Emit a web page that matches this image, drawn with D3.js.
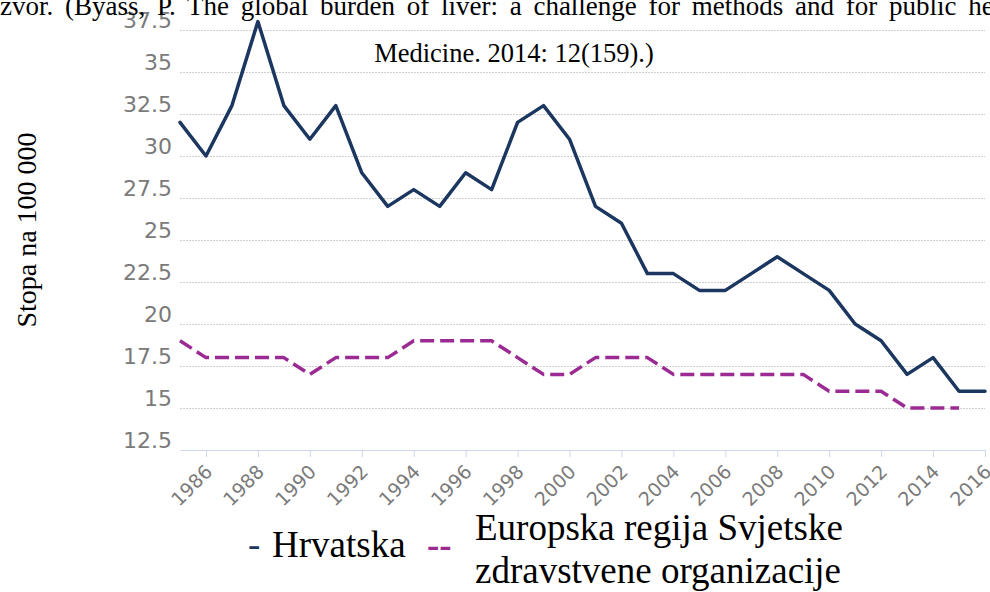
<!DOCTYPE html>
<html>
<head>
<meta charset="utf-8">
<script src="https://cdn.jsdelivr.net/npm/d3@7"></script>
<style>
  html, body { margin: 0; padding: 0; background: #fff; }
  svg { display: block; }
</style>
</head>
<body>
<svg id="graphArea" width="990" height="592"></svg>
<script>

// years on the x axis
let years = d3.range(1985, 2017);

// Hrvatska (1985 - 2016)
let hrvatska = [32, 30, 33, 38, 33, 31, 33, 29, 27, 28, 27, 29, 28, 32, 33, 31,
  27, 26, 23, 23, 22, 22, 23, 24, 23, 22, 20, 19, 17, 18, 16, 16];

// Europska regija SZO (1985 - 2015)
let europa = [19, 18, 18, 18, 18, 17, 18, 18, 18, 19, 19, 19, 19, 18, 17, 17,
  18, 18, 18, 17, 17, 17, 17, 17, 17, 16, 16, 16, 15, 15, 15];

// tick values
let yTicks = [12.5, 15, 17.5, 20, 22.5, 25, 27.5, 30, 32.5, 35, 37.5];
let xTicks = d3.range(1986, 2017, 2);

// texts
let sourceLine1 = "Izvor. (Byass, P. The global burden of liver: a challenge for methods and for public health. BMC";
let sourceLine2 = "Medicine. 2014: 12(159).)";
let yTitle = "Stopa na 100 000";
let legendHr = "Hrvatska";
let legendEu = ["Europska regija Svjetske", "zdravstvene organizacije"];

let svg = d3.select("#graphArea");
let margin = {top: 30, right: 5, bottom: 142, left: 180};
let width = 990, height = 592;

// scales
let x = d3.scaleLinear()
  .domain([1985, 2016])
  .range([margin.left, width - margin.right]);

let y = d3.scaleLinear()
  .domain([12.5, 37.5])
  .range([height - margin.bottom, margin.top]);

let sansFont = "'DejaVu Sans', Verdana, sans-serif";
let serifFont = "'Liberation Serif', 'Times New Roman', serif";

// grid lines + y labels
let yAxis = svg.append("g")
  .attr("class", "y-axis")
  .attr("transform", `translate(${margin.left},0)`)
  .call(
    d3.axisLeft(y)
      .tickValues(yTicks.slice(1))
      .tickSize(-(width - margin.left - margin.right))
      .tickPadding(8)
      .tickFormat(d => d3.format("~g")(d))
  );

yAxis.select(".domain").remove();
yAxis.selectAll("line")
  .style("stroke", "#cfcfcf")
  .style("stroke-width", 1)
  .style("stroke-dasharray", "2,1")
  .style("shape-rendering", "crispEdges");
yAxis.selectAll("text")
  .attr("dy", "-0.1em")
  .style("font-family", sansFont)
  .style("font-size", "22px")
  .style("fill", "#7a7a7a");

// 12.5 label sits on the axis line
yAxis.append("text")
  .attr("x", -8)
  .attr("y", y(yTicks[0]))
  .attr("dy", "-0.1em")
  .attr("text-anchor", "end")
  .style("font-family", sansFont)
  .style("font-size", "22px")
  .style("fill", "#7a7a7a")
  .text(d3.format("~g")(yTicks[0]));

// x axis
let xAxis = svg.append("g")
  .attr("class", "x-axis")
  .attr("transform", `translate(0,${y(12.5)})`)
  .call(
    d3.axisBottom(x)
      .tickValues(xTicks)
      .tickSizeInner(7)
      .tickSizeOuter(0)
      .tickFormat(d3.format("d"))
  );

xAxis.select(".domain")
  .style("stroke", "#ccd6eb")
  .style("stroke-width", 1);
xAxis.selectAll("line")
  .style("stroke", "#ccd6eb")
  .style("stroke-width", 1);
xAxis.selectAll("text")
  .attr("text-anchor", "end")
  .attr("dy", 0)
  .attr("y", 0)
  .attr("transform", "translate(7,23) rotate(-45)")
  .style("font-family", sansFont)
  .style("font-size", "19px")
  .style("fill", "#7a7a7a");

// lines
let lineGen = d3.line()
  .x((d, i) => x(years[i]))
  .y(d => y(d));

svg.append("path")
  .datum(hrvatska)
  .attr("d", lineGen)
  .style("fill", "none")
  .style("stroke", "#1b365f")
  .style("stroke-width", 3.5)
  .style("stroke-linejoin", "round")
  .style("stroke-linecap", "round");

svg.append("path")
  .datum(europa)
  .attr("d", lineGen)
  .style("fill", "none")
  .style("stroke", "#9b2b93")
  .style("stroke-width", 3.5)
  .style("stroke-dasharray", "14,6")
  .style("stroke-linejoin", "round")
  .style("stroke-linecap", "butt");

// source text (overlaps the plot, as in the document; line 1 is justified)
svg.append("text")
  .attr("x", -9)
  .attr("y", 15)
  .style("font-family", serifFont)
  .style("font-size", "27px")
  .style("word-spacing", "5px")
  .style("fill", "#000")
  .text(sourceLine1);

svg.append("text")
  .attr("x", 514)
  .attr("y", 62)
  .attr("text-anchor", "middle")
  .style("font-family", serifFont)
  .style("font-size", "26.5px")
  .style("fill", "#000")
  .text(sourceLine2);

// y title
svg.append("text")
  .attr("transform", "translate(36,230) rotate(-90)")
  .attr("text-anchor", "middle")
  .style("font-family", serifFont)
  .style("font-size", "28px")
  .style("fill", "#000")
  .text(yTitle);

// legend
let legend = svg.append("g")
  .style("font-family", serifFont)
  .style("font-size", "37px");

legend.append("text")
  .attr("x", 248)
  .attr("y", 557)
  .style("fill", "#1b365f")
  .text("-");

legend.append("text")
  .attr("x", 272)
  .attr("y", 557)
  .style("fill", "#000")
  .text(legendHr);

legend.append("text")
  .attr("x", 427)
  .attr("y", 557)
  .style("fill", "#9b2b93")
  .style("font-weight", "bold")
  .text("--");

legend.selectAll(".eu")
  .data(legendEu)
  .join("text")
  .attr("class", "eu")
  .attr("x", 475)
  .attr("y", (d, i) => 540 + i * 43)
  .style("fill", "#000")
  .text(d => d);

</script>
</body>
</html>
